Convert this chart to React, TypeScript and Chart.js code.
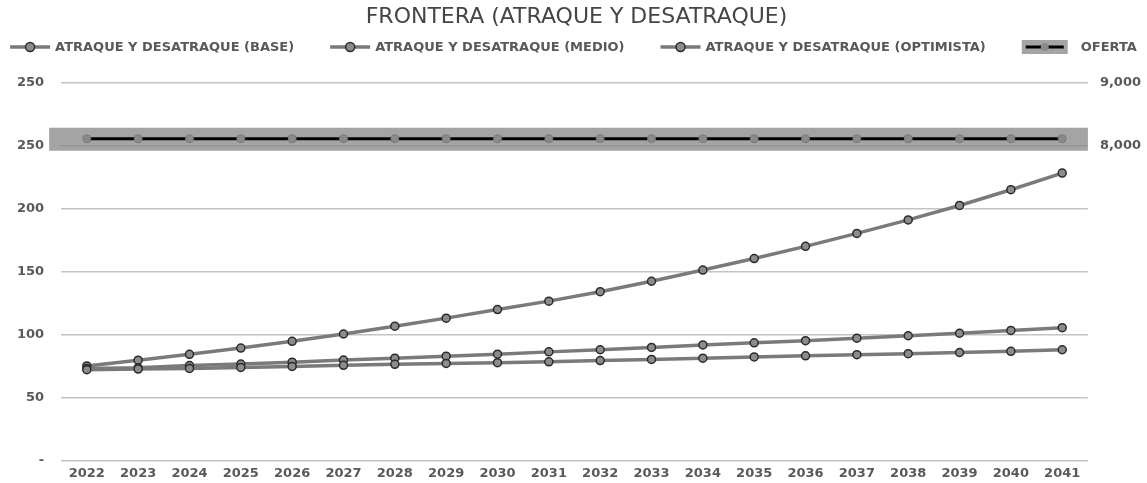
import React, { useEffect, useRef } from "react";
import { Chart, registerables } from "chart.js";

Chart.register(...registerables);

const TITLE = "FRONTERA (ATRAQUE Y DESATRAQUE)";
const YEARS = ["2022","2023","2024","2025","2026","2027","2028","2029","2030","2031","2032","2033","2034","2035","2036","2037","2038","2039","2040","2041"];
const BASE = [72, 72.5, 73, 73.8, 74.6, 75.5, 76.3, 77, 77.6, 78.3, 79.3, 80.2, 81.2, 82.2, 83.1, 84, 84.8, 85.7, 86.6, 87.9];
const MEDIO = [73, 73.5, 75.3, 76.5, 78, 79.7, 81.2, 82.8, 84.4, 86.2, 87.9, 89.7, 91.7, 93.4, 95.1, 97.1, 99, 101, 103.2, 105.4];
const OPTIMISTA = [75, 79.6, 84.3, 89.2, 94.6, 100.4, 106.6, 113, 119.8, 126.5, 134, 142.3, 151.2, 160.3, 170, 180.3, 191, 202.5, 215, 228.2];
const OFERTA = [8110, 8110, 8110, 8110, 8110, 8110, 8110, 8110, 8110, 8110, 8110, 8110, 8110, 8110, 8110, 8110, 8110, 8110, 8110, 8110];
const SERIES_NAMES = ["ATRAQUE Y DESATRAQUE (BASE)", "ATRAQUE Y DESATRAQUE (MEDIO)", "ATRAQUE Y DESATRAQUE (OPTIMISTA)", "OFERTA"];
const LEFT_TICKS = [0, 50, 100, 150, 200, 250, 300];
const LEFT_TICK_LABELS = ["-", "50", "100", "150", "200", "250", "250"];
const RIGHT_TICKS = [8000, 9000];
const RIGHT_TICK_LABELS = ["8,000", "9,000"];

const TEXT = "#595959";
const LINE = "#7a7a7a";
const POINT_FILL = "#8c8c8c";
const POINT_BORDER = "#2b2b2b";
const BAND = "#a4a4a4";
const FONT = "'DejaVu Sans', sans-serif";

function drawLineIcon(ctx: CanvasRenderingContext2D, x: number, y: number, w: number) {
  ctx.strokeStyle = LINE;
  ctx.lineWidth = 3.5;
  ctx.beginPath();
  ctx.moveTo(x, y);
  ctx.lineTo(x + w, y);
  ctx.stroke();
  ctx.fillStyle = POINT_FILL;
  ctx.strokeStyle = POINT_BORDER;
  ctx.lineWidth = 1.5;
  ctx.beginPath();
  ctx.arc(x + w / 2, y, 4.5, 0, Math.PI * 2);
  ctx.fill();
  ctx.stroke();
}

function drawBandIcon(ctx: CanvasRenderingContext2D, x: number, y: number, w: number) {
  ctx.fillStyle = BAND;
  ctx.fillRect(x, y - 7, w, 14);
  ctx.strokeStyle = "#000";
  ctx.lineWidth = 3;
  ctx.beginPath();
  ctx.moveTo(x + 4, y);
  ctx.lineTo(x + w - 4, y);
  ctx.stroke();
  ctx.fillStyle = "#8a8a8a";
  ctx.beginPath();
  ctx.arc(x + w / 2, y, 4, 0, Math.PI * 2);
  ctx.fill();
}

const legendPlugin = {
  id: "customLegend",
  afterDraw(chart: any) {
    const ctx = chart.ctx as CanvasRenderingContext2D;
    const names = chart.data.datasets.map((d: any) => d.label as string);
    ctx.save();
    ctx.font = `bold 13px ${FONT}`;
    const iconW = names.map((_: string, i: number) => (i === 3 ? 46 : 40));
    const iconGap = names.map((_: string, i: number) => (i === 3 ? 13 : 5));
    const textW = names.map((n: string) => ctx.measureText(n).width);
    const between = 36;
    let total = 0;
    names.forEach((_: string, i: number) => {
      total += iconW[i] + iconGap[i] + textW[i];
    });
    total += between * (names.length - 1);
    let x = (chart.width - total) / 2;
    const y = 47;
    ctx.textBaseline = "middle";
    names.forEach((n: string, i: number) => {
      if (i === 3) drawBandIcon(ctx, x, y, iconW[i]);
      else drawLineIcon(ctx, x, y, iconW[i]);
      x += iconW[i] + iconGap[i];
      ctx.fillStyle = TEXT;
      ctx.fillText(n, x, y + 0.5);
      x += textW[i] + between;
    });
    ctx.restore();
  },
};

const bandPlugin = {
  id: "ofertaBand",
  beforeDatasetsDraw(chart: any) {
    const meta = chart.getDatasetMeta(3);
    if (!meta || !meta.data.length) return;
    const y = meta.data[0].y;
    const { left, right } = chart.chartArea;
    const ctx = chart.ctx;
    ctx.save();
    ctx.fillStyle = BAND;
    ctx.fillRect(left - 12, y - 11, right - left + 12, 23);
    const gy = chart.scales.y.getPixelForValue(250);
    ctx.strokeStyle = "#939393";
    ctx.lineWidth = 1.5;
    ctx.beginPath();
    ctx.moveTo(left, gy);
    ctx.lineTo(right, gy);
    ctx.stroke();
    ctx.restore();
  },
};

const trimVerticalPadding = (s: any) => {
  s.paddingTop = 8;
  s.paddingBottom = 8;
};

export default function App() {
  const ref = useRef<HTMLCanvasElement | null>(null);
  useEffect(() => {
    document.body.style.margin = "0";
    const lineDs = (label: string, data: number[]) => ({
      label,
      data,
      yAxisID: "y",
      borderColor: LINE,
      borderWidth: 3.5,
      pointRadius: 4,
      pointBackgroundColor: POINT_FILL,
      pointBorderColor: POINT_BORDER,
      pointBorderWidth: 1.5,
      tension: 0,
    });
    const chart = new Chart(ref.current!, {
      type: "line",
      data: {
        labels: YEARS,
        datasets: [
          lineDs(SERIES_NAMES[0], BASE),
          lineDs(SERIES_NAMES[1], MEDIO),
          lineDs(SERIES_NAMES[2], OPTIMISTA),
          {
            label: SERIES_NAMES[3],
            data: OFERTA,
            yAxisID: "y2",
            borderColor: "#000000",
            borderWidth: 3,
            pointRadius: 4,
            pointBackgroundColor: "#8a8a8a",
            pointBorderColor: "#7a7a7a",
            pointBorderWidth: 1,
          },
        ],
      },
      options: {
        animation: false,
        responsive: false,
        layout: { padding: { left: 0, right: -6, top: 0, bottom: -3 } },
        plugins: {
          title: {
            display: true,
            text: TITLE,
            color: "#454545",
            font: { family: FONT, size: 22, weight: "normal" },
            padding: { top: 4, bottom: 52.3 },
          },
          legend: { display: false },
          tooltip: { enabled: false },
        },
        scales: {
          x: {
            offset: true,
            grid: { display: false, drawTicks: false },
            border: { display: false },
            ticks: { color: TEXT, font: { family: FONT, size: 13, weight: "bold" }, padding: 5, maxRotation: 0 },
          },
          y: {
            position: "left",
            min: 0,
            max: 300,
            afterFit: trimVerticalPadding,
            afterBuildTicks: (s: any) => {
              s.ticks = LEFT_TICKS.map((v) => ({ value: v }));
            },
            grid: { color: "#c4c4c4", lineWidth: 1.5, drawTicks: false },
            border: { display: false },
            ticks: {
              color: TEXT,
              font: { family: FONT, size: 13, weight: "bold" },
              padding: 17,
              callback: (v: any) => {
                const i = LEFT_TICKS.indexOf(Number(v));
                return i >= 0 ? LEFT_TICK_LABELS[i] : "";
              },
            },
          },
          y2: {
            position: "right",
            min: 3000,
            max: 9000,
            afterFit: trimVerticalPadding,
            afterBuildTicks: (s: any) => {
              s.ticks = RIGHT_TICKS.map((v) => ({ value: v }));
            },
            grid: { display: false, drawTicks: false },
            border: { display: false },
            ticks: {
              color: TEXT,
              font: { family: FONT, size: 13, weight: "bold" },
              padding: 12,
              callback: (v: any) => {
                const i = RIGHT_TICKS.indexOf(Number(v));
                return i >= 0 ? RIGHT_TICK_LABELS[i] : "";
              },
            },
          },
        },
      },
      plugins: [bandPlugin, legendPlugin],
    });
    return () => chart.destroy();
  }, []);
  return (
    <div style={{ width: 1147, height: 483, background: "#fff" }}>
      <canvas ref={ref} width={1147} height={483} style={{ display: "block" }} />
    </div>
  );
}
